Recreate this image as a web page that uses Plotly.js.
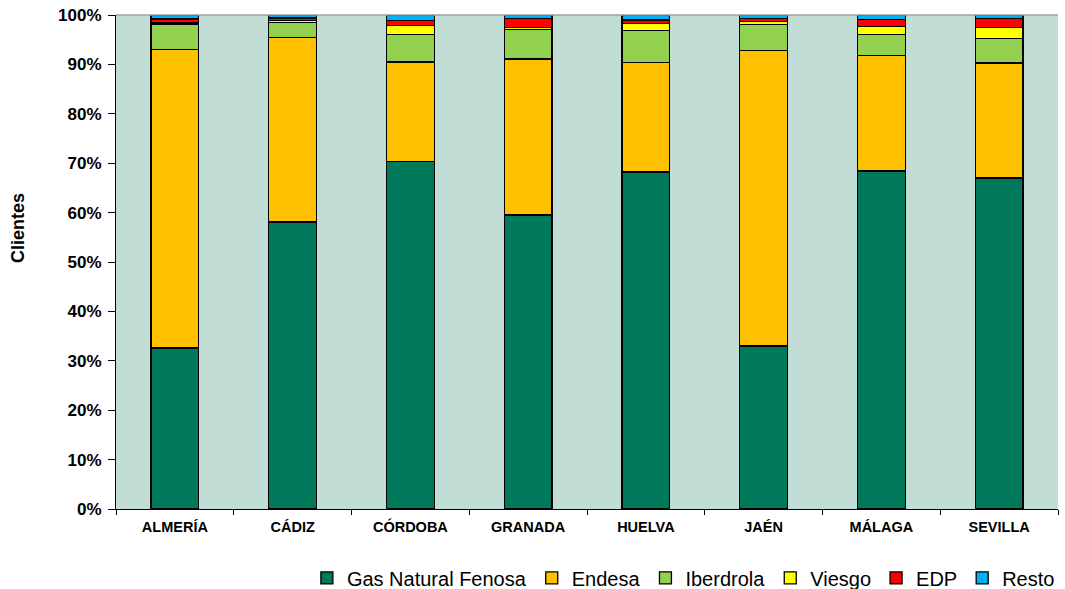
<!DOCTYPE html>
<html><head><meta charset="utf-8">
<script src="https://cdn.plot.ly/plotly-3.0.1.min.js"></script>
<style>html,body{margin:0;padding:0;background:#fff}#chart{width:1065px;height:589px}</style>
</head><body><div id="chart"></div>
<script>
const provincias = ["ALMERÍA","CÁDIZ","CÓRDOBA","GRANADA","HUELVA","JAÉN","MÁLAGA","SEVILLA"];
const gasNatural = [32.6, 58.1, 70.4, 59.5, 68.2, 33.0, 68.4, 67.0];
const endesa     = [60.4, 37.3, 20.1, 31.6, 22.2, 59.85, 23.4, 23.3];
const iberdrola  = [5.2, 3.1, 5.5, 6.0, 6.4, 5.25, 4.3, 4.9];
const viesgo     = [0.2, 0.4, 1.9, 0.3, 1.5, 0.55, 1.6, 2.3];
const edp        = [0.8, 0.5, 1.0, 1.9, 0.7, 0.65, 1.4, 1.8];
const resto      = [0.8, 0.6, 1.1, 0.7, 1.0, 0.7, 0.9, 0.7];
const yTicks = [0,10,20,30,40,50,60,70,80,90,100];
const yTickLabels = yTicks.map(v => v + "%");
const yTitle = "Clientes";

const series = [
  {name:"Gas Natural Fenosa", y:gasNatural, color:"#00785A"},
  {name:"Endesa", y:endesa, color:"#FFC000"},
  {name:"Iberdrola", y:iberdrola, color:"#92D050"},
  {name:"Viesgo", y:viesgo, color:"#FFFF00"},
  {name:"EDP", y:edp, color:"#FF0000"},
  {name:"Resto", y:resto, color:"#00B0F0"}
];
const traces = series.map(s => ({
  type:"bar", name:s.name, x:provincias, y:s.y,
  marker:{color:s.color, line:{color:"#000", width:1.3}},
  hoverinfo:"name+y"
}));
const layout = {
  width:1065, height:589,
  margin:{l:116, r:7, t:15, b:80, autoexpand:false},
  paper_bgcolor:"#fff", plot_bgcolor:"#C2DDD6",
  barmode:"stack", bargap:0.595,
  showlegend:true,
  legend:{orientation:"h", x:1.002, xanchor:"right", y:-0.1, yanchor:"top",
          font:{family:"Liberation Sans, Arial", size:20, color:"#000"},
          traceorder:"normal", itemwidth:30, tracegroupgap:0},
  xaxis:{showline:true, linecolor:"#000", linewidth:1, ticks:"outside", tickson:"boundaries",
         ticklen:5, tickcolor:"#000", showgrid:false, automargin:false, ticklabelstandoff:5,
         tickfont:{family:"Liberation Sans, Arial", size:14.5, color:"#000", weight:"bold"}},
  yaxis:{range:[0,100], tickvals:yTicks, ticktext:yTickLabels, showline:true, linecolor:"#000", linewidth:1,
         ticks:"outside", ticklen:7, tickcolor:"#000", showgrid:false, zeroline:false, automargin:false,
         ticklabelstandoff:3,
         tickfont:{family:"Liberation Sans, Arial", size:17, color:"#000", weight:"bold"}},
  annotations:[{text:yTitle, textangle:-90, xref:"paper", yref:"paper", x:0, y:0.569,
                xanchor:"center", yanchor:"middle", xshift:-98, showarrow:false,
                font:{family:"Liberation Sans, Arial", size:18, color:"#000", weight:"bold"}}],
  shapes:[{type:"line", xref:"paper", yref:"paper", x0:0, x1:1, y0:1, y1:1, line:{color:"#A0A0A0", width:1.5}}]
};
Plotly.newPlot("chart", traces, layout, {displayModeBar:false, staticPlot:true});
</script></body></html>
